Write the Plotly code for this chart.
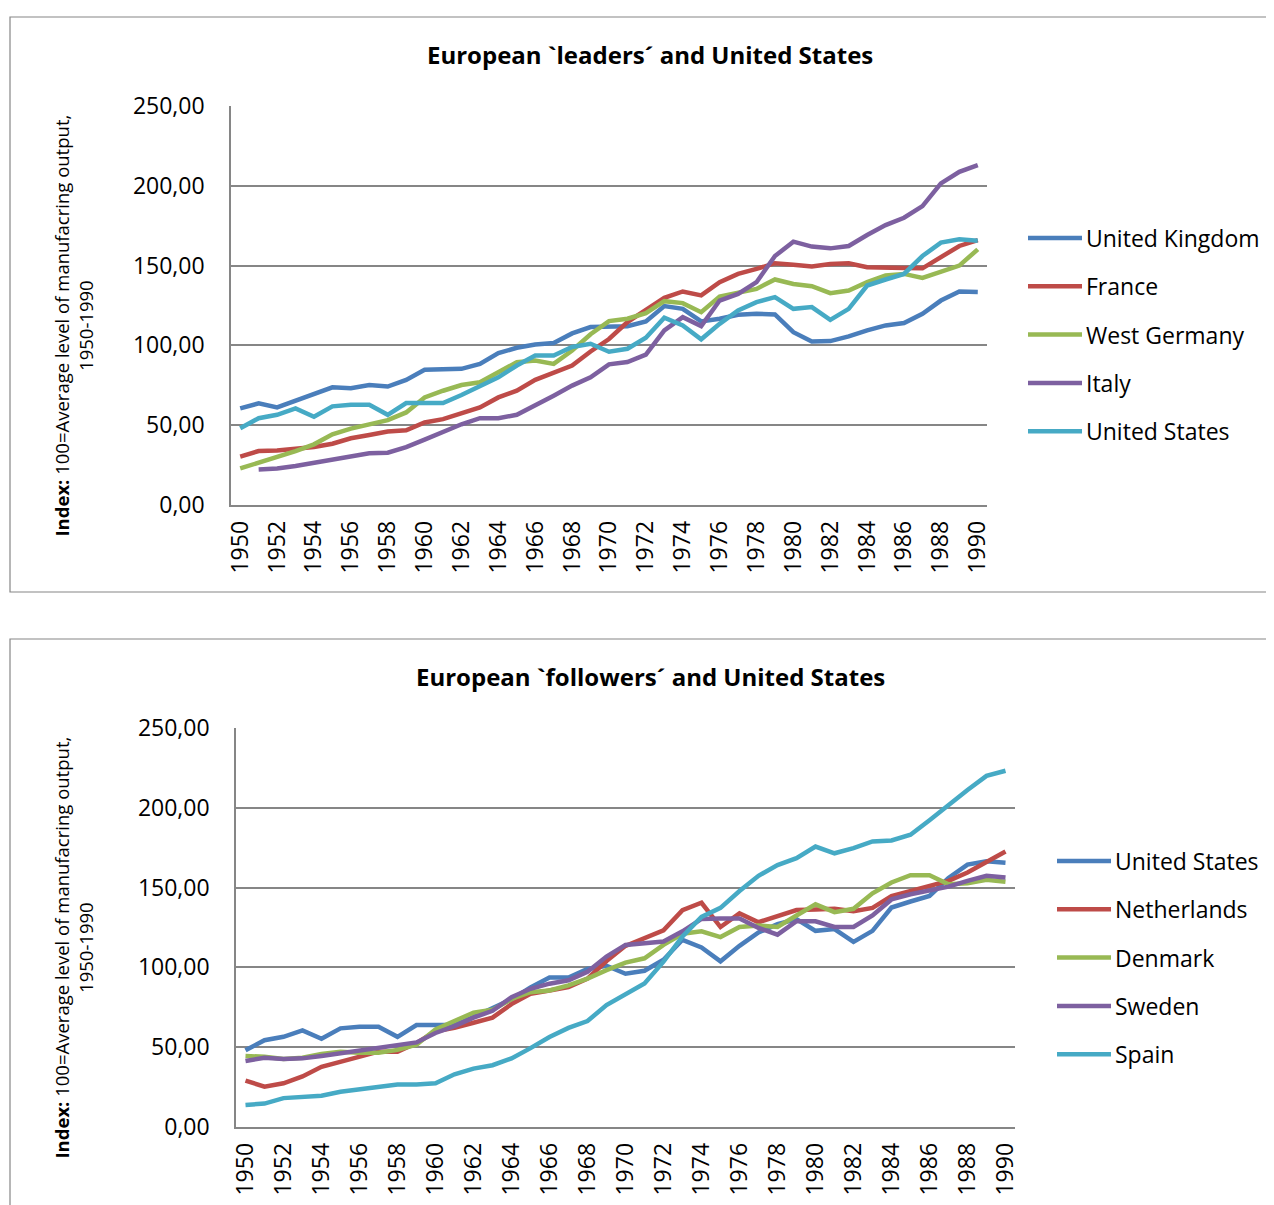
import plotly.graph_objects as go

# Index: 100 = average level of manufacturing output, 1950-1990
years = list(range(1950, 1991))
tick_years = list(range(1950, 1991, 2))

united_kingdom = [60.5, 63.7, 61.1, 65.3, 69.5, 73.7, 73.1, 75.2, 74.2, 78.4,
                  84.7, 84.7, 85.3, 88.4, 95.2, 98.5, 100.6, 101.5, 107.5, 111.5,
                  112.0, 112.0, 115.0, 124.6, 122.9, 115.0, 116.7, 119.2, 119.8, 119.4,
                  108.3, 102.5, 102.7, 105.6, 109.4, 112.5, 114.0, 119.8, 128.1, 133.8,
                  133.5]
france = [30.3, 33.8, 34.2, 35.5, 36.3, 38.4, 41.8, 43.9, 46.0, 46.8,
          51.7, 53.8, 57.4, 61.1, 67.4, 71.6, 78.4, 82.6, 87.4, 96.2,
          104.0, 114.6, 121.9, 129.8, 133.8, 131.3, 139.6, 144.8, 147.9, 151.5,
          150.6, 149.4, 151.0, 151.5, 149.0, 148.5, 148.5, 148.3, 155.6, 162.3,
          166.0]
west_germany = [22.9, 26.5, 30.0, 33.8, 38.0, 44.3, 47.9, 50.6, 53.2, 58.0,
                67.4, 71.6, 75.2, 76.9, 83.2, 89.5, 90.5, 88.4, 96.8, 107.0,
                115.2, 116.7, 120.2, 127.7, 126.5, 120.8, 130.6, 132.7, 135.4, 141.3,
                138.5, 137.1, 132.7, 134.4, 139.6, 143.8, 144.8, 142.3, 145.8, 150.0,
                160.2]
italy = [None, 22.3, 22.9, 24.4, 26.5, 28.2, 30.3, 32.4, 32.8, 36.3,
         41.0, 46.0, 50.6, 54.4, 54.4, 56.5, 62.2, 68.5, 74.8, 80.0,
         88.1, 89.6, 94.2, 109.4, 117.7, 112.1, 128.1, 132.3, 139.6, 156.0,
         165.0, 161.9, 160.8, 162.3, 169.2, 175.4, 180.0, 187.3, 201.5, 208.8,
         212.9]
united_states = [48.1, 54.4, 56.5, 60.5, 55.3, 61.8, 62.8, 62.8, 56.5, 63.9,
                 63.9, 63.9, 68.9, 74.2, 80.0, 87.4, 93.7, 93.7, 99.0, 101.0,
                 96.0, 97.9, 104.8, 117.3, 112.5, 103.8, 113.5, 121.9, 127.1, 130.2,
                 122.9, 124.0, 116.0, 122.9, 137.5, 141.3, 144.8, 156.0, 164.4, 166.5,
                 165.6]
netherlands = [29.1, 25.3, 27.4, 31.7, 37.7, 40.9, 44.0, 47.2, 47.2, 52.6,
               60.0, 62.1, 65.3, 68.5, 77.0, 83.4, 85.5, 87.7, 93.0, 104.0,
               113.5, 118.4, 123.2, 135.9, 140.5, 125.3, 133.8, 128.3, 132.1, 135.9,
               136.3, 136.7, 135.2, 137.3, 144.7, 147.9, 151.0, 154.2, 159.5, 166.2,
               172.6]
denmark = [44.5, 44.0, 42.6, 43.4, 45.7, 47.2, 46.6, 46.6, 48.3, 51.5,
           61.1, 66.4, 71.7, 73.4, 80.2, 84.5, 85.5, 88.7, 93.0, 98.3,
           103.0, 105.7, 114.1, 121.1, 122.6, 119.0, 125.3, 126.2, 125.3, 132.5,
           139.5, 134.6, 136.7, 146.4, 153.2, 157.8, 157.8, 152.1, 152.7, 154.9,
           153.6]
sweden = [41.3, 43.4, 42.6, 43.0, 44.5, 46.2, 47.9, 49.4, 50.9, 53.0,
          58.9, 63.2, 68.5, 72.8, 81.3, 86.6, 89.8, 91.9, 97.2, 106.8,
          114.1, 115.2, 116.2, 122.6, 130.4, 130.6, 130.6, 124.7, 120.5, 128.9,
          128.9, 125.3, 125.3, 132.5, 142.6, 145.8, 147.9, 150.6, 154.2, 157.4,
          156.3]
spain = [13.8, 14.7, 18.1, 18.5, 19.6, 22.1, 23.8, 25.3, 26.6, 26.6,
         27.4, 33.0, 36.6, 38.7, 43.0, 49.4, 56.4, 62.1, 66.4, 76.4,
         83.5, 90.0, 103.6, 119.4, 131.6, 137.3, 147.9, 157.4, 164.1, 168.4,
         175.7, 171.5, 174.7, 178.9, 179.5, 183.1, 192.2, 202.1, 211.2, 220.0,
         223.2]

BLUE, RED, GREEN, PURPLE, CYAN = '#4A7EBB', '#BE4B48', '#98B954', '#7D60A0', '#46AAC5'

leaders = [('United Kingdom', united_kingdom, BLUE), ('France', france, RED),
           ('West Germany', west_germany, GREEN), ('Italy', italy, PURPLE),
           ('United States', united_states, CYAN)]
followers = [('United States', united_states, BLUE), ('Netherlands', netherlands, RED),
             ('Denmark', denmark, GREEN), ('Sweden', sweden, PURPLE),
             ('Spain', spain, CYAN)]

# page body has an 8px margin, so the figure is a bit smaller than the window
PAGE_W, PAGE_H, OFF = 1274, 1205, 8
W, H = PAGE_W - OFF, PAGE_H - OFF
FONT = 'Open Sans'
GRID = '#868686'


def px(x):
    return (x - OFF) / W


def py(y):
    return 1 - (y - OFF) / H


fig = go.Figure()

panels = [
    # series, axis suffix, plot box (px), title, title y, legend x/y, frame
    (leaders, '', (231, 106, 987, 505), "European `leaders´ and United States", 57, (1028, 238), (10, 17, 1273, 592)),
    (followers, '2', (236, 728, 1015, 1127), "European `followers´ and United States", 678, (1057, 861), (10, 639, 1273, 1215)),
]

for series, sfx, box, title, title_y, leg, frame in panels:
    for name, vals, color in series:
        fig.add_trace(go.Scatter(
            x=years, y=vals, name=name, mode='lines',
            line=dict(color=color, width=4.5),
            xaxis='x' + sfx, yaxis='y' + sfx, showlegend=False,
        ))

    x0, y0, x1, y1 = box
    fig.update_layout(**{
        'xaxis' + sfx: dict(
            domain=[px(x0), px(x1)], range=[1949.5, 1990.5],
            tickvals=tick_years, tickangle=-90, showgrid=False,
            showline=True, linecolor=GRID, linewidth=1.5, ticks='',
            ticklabelstandoff=5,
            tickfont=dict(family=FONT, size=23, color='black'),
            anchor='y' + sfx, fixedrange=True, automargin=False,
        ),
        'yaxis' + sfx: dict(
            domain=[py(y1), py(y0)], range=[0, 250], tickvals=[0, 50, 100, 150, 200, 250],
            tickformat='.2f', showgrid=True, gridcolor=GRID, gridwidth=1.5,
            showline=True, linecolor=GRID, linewidth=1.5, ticks='',
            ticklabelstandoff=20, zeroline=False,
            tickfont=dict(family=FONT, size=23, color='black'),
            anchor='x' + sfx, fixedrange=True, automargin=False,
        ),
    })

    # outer chart frame
    fx0, fy0, fx1, fy1 = frame
    fig.add_shape(type='rect', xref='paper', yref='paper',
                  x0=px(fx0), y0=py(fy1), x1=px(fx1), y1=py(fy0),
                  line=dict(color=GRID, width=1.2))

    fig.add_annotation(xref='paper', yref='paper', x=px(650), y=py(title_y - 2),
                       xanchor='center', yanchor='middle',
                       text='<b>' + title + '</b>', showarrow=False,
                       font=dict(family=FONT, size=24, color='black'))

    mid = (y0 + y1) / 2 + 20
    fig.add_annotation(xref='paper', yref='paper', x=px(73), y=py(mid),
                       xanchor='center', yanchor='middle',
                       text='<b>Index:</b> 100=Average level of manufacring output,<br>1950-1990',
                       textangle=-90, showarrow=False, align='center',
                       font=dict(family=FONT, size=18.5, color='black'))

    # legend
    lx, ly = leg
    for i, (name, vals, color) in enumerate(series):
        yy = ly + i * 48.3
        fig.add_shape(type='line', xref='paper', yref='paper',
                      x0=px(lx), x1=px(lx + 54), y0=py(yy), y1=py(yy),
                      line=dict(color=color, width=4.5))
        fig.add_annotation(xref='paper', yref='paper', x=px(lx + 56), y=py(yy),
                           text=name, showarrow=False, xanchor='left', yanchor='middle',
                           font=dict(family=FONT, size=23, color='black'))

fig.update_layout(
    width=W, height=H,
    margin=dict(l=0, r=0, t=0, b=0),
    paper_bgcolor='white', plot_bgcolor='white',
    separators=', ',
    showlegend=False,
)

fig.write_html("out.html")
